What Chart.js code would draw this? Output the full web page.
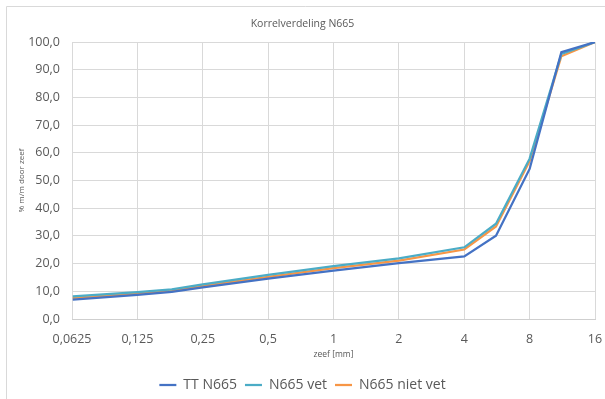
<!DOCTYPE html>
<html>
<head>
<meta charset="utf-8">
<script src="https://cdn.jsdelivr.net/npm/chart.js@4"></script>
<style>
  html, body { margin: 0; padding: 0; background: #fff; }
  #wrap { width: 605px; height: 399px; position: relative; }
</style>
</head>
<body>
<div id="wrap"><canvas id="c" width="605" height="399"></canvas></div>
<script>
// Sieve sizes (mm) and percentage passing per sample
const sieves = [0.063, 0.125, 0.18, 0.25, 0.5, 1, 2, 4, 5.6, 8, 11.2, 16];
const ttN665 = [7.0, 8.7, 9.8, 11.4, 14.6, 17.5, 20.2, 22.6, 30.1, 54.2, 96.4, 100.0];
const n665Vet = [8.2, 9.7, 10.7, 12.5, 15.9, 19.1, 21.9, 25.9, 34.4, 57.9, 95.7, 100.0];
const n665NietVet = [7.6, 9.2, 10.3, 12.0, 15.2, 18.4, 21.1, 25.1, 33.4, 57.0, 94.9, 100.0];
const xTicks = [0.0625, 0.125, 0.25, 0.5, 1, 2, 4, 8, 16];
const seriesNames = ['TT N665', 'N665 vet', 'N665 niet vet'];

const textColor = '#595959';
const gridColor = '#d9d9d9';
const FONT = "'Open Sans', sans-serif";

const toPoints = vals => vals.map((v, i) => ({ x: sieves[i], y: v }));
const comma = v => String(v).replace('.', ',');

const frame = {
  id: 'frame',
  beforeDraw(chart) {
    const ctx = chart.ctx;
    ctx.save();
    ctx.strokeStyle = gridColor;
    ctx.lineWidth = 1;
    ctx.beginPath();
    ctx.moveTo(6.5, 399);
    ctx.lineTo(6.5, 6.5);
    ctx.lineTo(605, 6.5);
    ctx.stroke();
    ctx.restore();
  }
};

new Chart(document.getElementById('c'), {
  type: 'line',
  data: {
    datasets: [
      { label: seriesNames[0], data: toPoints(ttN665), borderColor: '#4472C4', backgroundColor: '#4472C4' },
      { label: seriesNames[1], data: toPoints(n665Vet), borderColor: '#4BACC6', backgroundColor: '#4BACC6' },
      { label: seriesNames[2], data: toPoints(n665NietVet), borderColor: '#F79646', backgroundColor: '#F79646' }
    ].map(d => Object.assign(d, { borderWidth: 2.25, pointRadius: 0, tension: 0, pointStyle: 'line' }))
  },
  options: {
    responsive: false,
    animation: false,
    layout: { padding: { left: 0, right: 0, top: 0, bottom: -3 } },
    plugins: {
      title: {
        display: true,
        text: 'Korrelverdeling N665',
        color: textColor,
        font: { family: FONT, size: 10.5, weight: 'normal' },
        padding: { top: 17.5, bottom: 12 }
      },
      legend: {
        position: 'bottom',
        labels: {
          color: textColor,
          font: { family: FONT, size: 14 },
          usePointStyle: true,
          pointStyleWidth: 17,
          padding: 8
        }
      },
      tooltip: { enabled: false }
    },
    scales: {
      x: {
        type: 'logarithmic',
        min: 0.0625,
        max: 16,
        afterBuildTicks: s => { s.ticks = xTicks.map(v => ({ value: v })); },
        afterFit: s => { s.height = 51; s.paddingLeft = 0; s.paddingRight = 10; },
        ticks: {
          color: textColor,
          font: { family: FONT, size: 12.5 },
          padding: 13,
          maxRotation: 0,
          autoSkip: false,
          callback: v => comma(v)
        },
        grid: { color: gridColor, drawTicks: false },
        border: { color: '#cfcfcf' },
        title: {
          display: true,
          text: 'zeef [mm]',
          color: textColor,
          font: { family: FONT, size: 8.5 },
          padding: { top: 0, bottom: 10 }
        }
      },
      y: {
        min: 0,
        max: 100,
        afterFit: s => { s.width = 72; },
        ticks: {
          stepSize: 10,
          color: textColor,
          font: { family: FONT, size: 12.5 },
          padding: 12,
          callback: v => Number(v).toFixed(1).replace('.', ',')
        },
        grid: { color: gridColor, drawTicks: false },
        border: { display: false },
        title: {
          display: true,
          text: '% m/m door zeef',
          color: textColor,
          font: { family: FONT, size: 8 },
          padding: { top: 17, bottom: 0 }
        }
      }
    }
  },
  plugins: [frame]
});
</script>
</body>
</html>
